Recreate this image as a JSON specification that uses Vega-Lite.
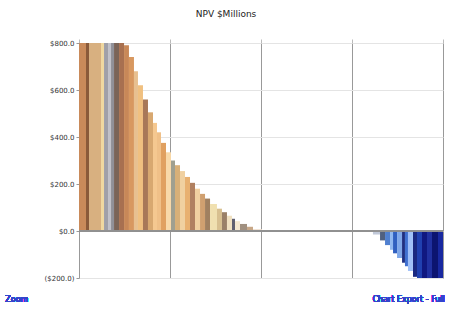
{
  "$schema": "https://vega.github.io/schema/vega-lite/v6.json",
  "width": 364,
  "height": 235,
  "autosize": {"type": "none"},
  "padding": {"left": 79, "top": 43, "right": 9, "bottom": 33},
  "background": "white",
  "title": {"text": "NPV $Millions", "fontSize": 9, "font": "DejaVu Sans", "fontWeight": "normal", "color": "#222", "anchor": "middle", "dx": -35, "offset": 20},
  "config": {
    "view": {"stroke": "#a8a8a8"},
    "axis": {"labelFont": "DejaVu Sans", "labelFontSize": 7, "labelColor": "#333", "domain": false}
  },
  "data": {"values": [
    {"id": "p01", "x0": 0, "x1": 7.7, "npv": 800},
    {"id": "p02", "x0": 7.7, "x1": 11, "npv": 800},
    {"id": "p03", "x0": 11, "x1": 24.2, "npv": 800},
    {"id": "p04", "x0": 24.2, "x1": 27.5, "npv": 800},
    {"id": "p05", "x0": 27.5, "x1": 31.9, "npv": 800},
    {"id": "p06", "x0": 31.9, "x1": 35.2, "npv": 800},
    {"id": "p07", "x0": 35.2, "x1": 38.5, "npv": 800},
    {"id": "p08", "x0": 38.5, "x1": 44, "npv": 800},
    {"id": "p09", "x0": 44, "x1": 49.5, "npv": 800},
    {"id": "p10", "x0": 49.5, "x1": 54.9, "npv": 790},
    {"id": "p11", "x0": 54.9, "x1": 60.4, "npv": 740},
    {"id": "p12", "x0": 60.4, "x1": 64.8, "npv": 680},
    {"id": "p13", "x0": 64.8, "x1": 70.3, "npv": 620},
    {"id": "p14", "x0": 70.3, "x1": 75.8, "npv": 560},
    {"id": "p15", "x0": 75.8, "x1": 81.3, "npv": 505},
    {"id": "p16", "x0": 81.3, "x1": 85.7, "npv": 460},
    {"id": "p17", "x0": 85.7, "x1": 90.1, "npv": 420},
    {"id": "p18", "x0": 90.1, "x1": 95.6, "npv": 375},
    {"id": "p19", "x0": 95.6, "x1": 101.1, "npv": 335},
    {"id": "p20", "x0": 101.1, "x1": 105.5, "npv": 300},
    {"id": "p21", "x0": 105.5, "x1": 111, "npv": 280},
    {"id": "p22", "x0": 111, "x1": 116.5, "npv": 255},
    {"id": "p23", "x0": 116.5, "x1": 122, "npv": 230},
    {"id": "p24", "x0": 122, "x1": 127.5, "npv": 205},
    {"id": "p25", "x0": 127.5, "x1": 133, "npv": 180},
    {"id": "p26", "x0": 133, "x1": 138.5, "npv": 158},
    {"id": "p27", "x0": 138.5, "x1": 144, "npv": 138},
    {"id": "p28", "x0": 144, "x1": 151.6, "npv": 115},
    {"id": "p29", "x0": 151.6, "x1": 157.1, "npv": 95},
    {"id": "p30", "x0": 157.1, "x1": 162.6, "npv": 80},
    {"id": "p31", "x0": 162.6, "x1": 168.1, "npv": 65},
    {"id": "p32", "x0": 168.1, "x1": 171.4, "npv": 52},
    {"id": "p33", "x0": 171.4, "x1": 176.9, "npv": 42},
    {"id": "p34", "x0": 176.9, "x1": 184.6, "npv": 30},
    {"id": "p35", "x0": 184.6, "x1": 191.2, "npv": 18},
    {"id": "p36", "x0": 191.2, "x1": 201.1, "npv": 8},
    {"id": "n01", "x0": 323, "x1": 330.8, "npv": -15},
    {"id": "n02", "x0": 330.8, "x1": 336.3, "npv": -40},
    {"id": "n03", "x0": 336.3, "x1": 341.8, "npv": -60},
    {"id": "n04", "x0": 341.8, "x1": 345.1, "npv": -80},
    {"id": "n05", "x0": 345.1, "x1": 349.5, "npv": -95},
    {"id": "n06", "x0": 349.5, "x1": 355, "npv": -115},
    {"id": "n07", "x0": 355, "x1": 358.2, "npv": -135},
    {"id": "n08", "x0": 358.2, "x1": 361.5, "npv": -150},
    {"id": "n09", "x0": 361.5, "x1": 367, "npv": -170},
    {"id": "n10", "x0": 367, "x1": 371.4, "npv": -195},
    {"id": "n11", "x0": 371.4, "x1": 376.9, "npv": -200},
    {"id": "n12", "x0": 376.9, "x1": 382.4, "npv": -200},
    {"id": "n13", "x0": 382.4, "x1": 387.9, "npv": -200},
    {"id": "n14", "x0": 387.9, "x1": 394.5, "npv": -200},
    {"id": "n15", "x0": 394.5, "x1": 400, "npv": -200}
  ]},
  "layer": [
    {
      "mark": {"type": "bar", "clip": true},
      "encoding": {
        "x": {"field": "x0", "type": "quantitative", "scale": {"domain": [0, 400], "nice": false},
              "axis": {"orient": "top", "values": [0, 100, 200, 300, 400], "labels": false, "ticks": true, "tickSize": 4, "tickColor": "#bbb", "grid": true, "gridColor": "#999", "title": null}},
        "x2": {"field": "x1"},
        "y": {"field": "npv", "type": "quantitative", "scale": {"domain": [-200, 800], "nice": false},
              "axis": {"values": [-200, 0, 200, 400, 600, 800], "title": null, "grid": true, "gridColor": "#e4e4e4", "tickSize": 3, "tickColor": "#999",
                       "labelExpr": "datum.value < 0 ? '($' + format(-datum.value, '.1f') + ')' : '$' + format(datum.value, '.1f')"}},
        "y2": {"datum": 0},
        "color": {"field": "id", "type": "nominal", "legend": null,
          "scale": {
            "domain": ["p01","p02","p03","p04","p05","p06","p07","p08","p09","p10","p11","p12","p13","p14","p15","p16","p17","p18","p19","p20","p21","p22","p23","p24","p25","p26","p27","p28","p29","p30","p31","p32","p33","p34","p35","p36","n01","n02","n03","n04","n05","n06","n07","n08","n09","n10","n11","n12","n13","n14","n15"],
            "range": ["#c98a5a","#8a5a3a","#d8b080","#f0d8a0","#a0a0a8","#c0c0c8","#909098","#7a6458","#a87050","#c88858","#d89860","#e8c090","#f0c080","#a87858","#d8a870","#f5c890","#f0c088","#e0a060","#f8d8a8","#a0a090","#d8b078","#f0d0a0","#e8b070","#b08060","#f0d0a0","#d0a070","#a08060","#f0e0b0","#d8c090","#9a8068","#f0e0c0","#606070","#f5e8d0","#a09080","#c8a888","#f0e0d0","#c0c8d8","#506080","#5080d0","#90b8f0","#3060c0","#80a8e8","#203080","#4070d0","#a0c0f8","#1a2880","#2040b0","#101880","#2030a0","#0c1470","#1828a0"]
          }}
      }
    },
    {
      "mark": {"type": "rule", "color": "#909090", "strokeWidth": 1},
      "encoding": {"y": {"datum": 0}}
    },
    {
      "mark": {"type": "text", "align": "left", "baseline": "middle", "fontSize": 8, "font": "DejaVu Sans", "color": "#3344cc", "clip": false},
      "encoding": {"x": {"datum": -81}, "y": {"datum": -294}, "text": {"value": "Zoom"}}
    },
    {
      "mark": {"type": "text", "align": "right", "baseline": "middle", "fontSize": 8, "font": "DejaVu Sans", "color": "#3344cc", "clip": false},
      "encoding": {"x": {"datum": 402}, "y": {"datum": -294}, "text": {"value": "Chart Export - Full"}}
    }
  ]
}
